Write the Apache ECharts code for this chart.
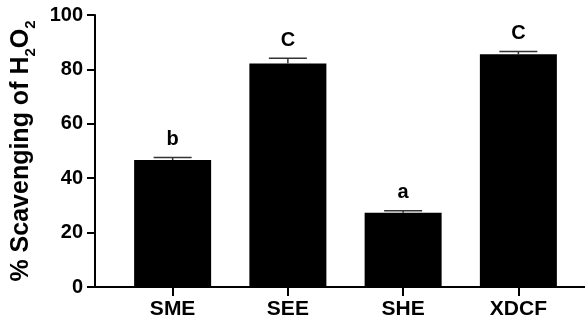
<!DOCTYPE html>
<html>
<head>
<meta charset="utf-8">
<script src="https://cdn.jsdelivr.net/npm/echarts@6/dist/echarts.min.js"></script>
<style>html,body{margin:0;padding:0;background:#fff}#c{width:585px;height:325px}</style>
</head>
<body>
<div id="c"></div>
<script>
var categories = ['SME', 'SEE', 'SHE', 'XDCF'];
var values = [46.7, 82.2, 27.3, 85.6];
var errors = [0.9, 1.9, 0.7, 1.0];
var letters = ['b', 'C', 'a', 'C'];
var yTicks = [0, 20, 40, 60, 80, 100];

var FONT = '"Liberation Sans", Arial, sans-serif';
var chart = echarts.init(document.getElementById('c'));
chart.setOption({
  animation: false,
  backgroundColor: '#fff',
  grid: [
    {left: 115, right: 9, top: 15, bottom: 38},
    {left: 95, right: 0, top: 15, bottom: 38}
  ],
  xAxis: [
    {
      type: 'category', gridIndex: 0, data: categories,
      axisLine: {show: false},
      axisTick: {show: true, alignWithLabel: true, length: 9, lineStyle: {color: '#000', width: 2}},
      axisLabel: {color: '#000', fontFamily: FONT, fontWeight: 'bold', fontSize: 21, margin: 12}
    },
    {
      type: 'value', gridIndex: 1, min: 0, max: 1,
      axisLine: {show: true, lineStyle: {color: '#000', width: 2}},
      axisTick: {show: false}, axisLabel: {show: false}, splitLine: {show: false}
    }
  ],
  yAxis: [
    {
      type: 'value', gridIndex: 0, min: yTicks[0], max: yTicks[yTicks.length - 1], interval: 20,
      offset: 20,
      name: '{t|% Scavenging of H}{s|2}{t|O}{s|2}',
      nameLocation: 'middle', nameGap: 57,
      nameTextStyle: {
        rich: {
          t: {fontFamily: FONT, fontWeight: 'bold', fontSize: 25, color: '#000', verticalAlign: 'bottom', lineHeight: 29},
          s: {fontFamily: FONT, fontWeight: 'bold', fontSize: 15, color: '#000', verticalAlign: 'bottom', lineHeight: 18, padding: [0, 0, -5, 0]}
        }
      },
      axisLine: {show: true, lineStyle: {color: '#000', width: 2}},
      axisTick: {show: true, length: 8, lineStyle: {color: '#000', width: 2}},
      axisLabel: {color: '#000', fontFamily: FONT, fontWeight: 'bold', fontSize: 20, margin: 12},
      splitLine: {show: false}
    },
    {
      type: 'value', gridIndex: 1, min: 0, max: 1, show: false
    }
  ],
  series: [
    {
      type: 'bar', xAxisIndex: 0, yAxisIndex: 0, data: values, barWidth: 77,
      itemStyle: {color: '#000'}
    },
    {
      type: 'custom', xAxisIndex: 0, yAxisIndex: 0,
      data: values.map(function (v, i) { return [i, v, errors[i]]; }),
      renderItem: function (params, api) {
        var i = api.value(0);
        var top = api.coord([i, api.value(1)]);
        var cap = api.coord([i, api.value(1) + api.value(2)]);
        var hw = 19;
        return {
          type: 'group',
          children: [
            {type: 'line', shape: {x1: top[0], y1: top[1], x2: cap[0], y2: cap[1]}, style: {stroke: '#333', lineWidth: 1.5}},
            {type: 'line', shape: {x1: cap[0] - hw, y1: cap[1], x2: cap[0] + hw, y2: cap[1]}, style: {stroke: '#333', lineWidth: 1.5}},
            {type: 'text', x: cap[0], y: cap[1] - 8, style: {text: letters[params.dataIndex], fill: '#000', font: 'bold 20px ' + FONT, textAlign: 'center', textVerticalAlign: 'bottom'}}
          ]
        };
      },
      z: 5
    }
  ]
});
</script>
</body>
</html>
